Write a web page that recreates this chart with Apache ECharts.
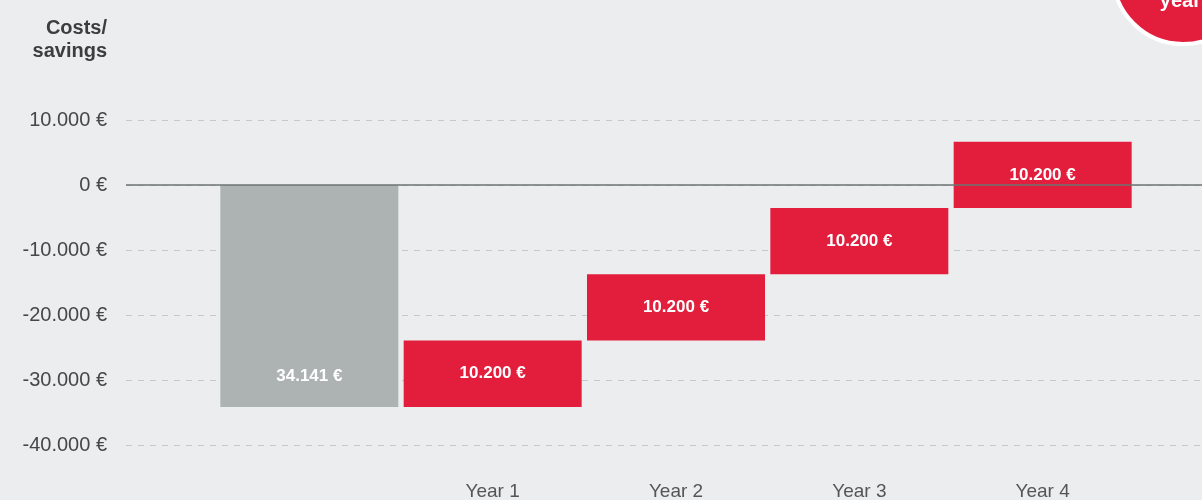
<!DOCTYPE html>
<html>
<head>
<meta charset="utf-8">
<script src="https://cdn.jsdelivr.net/npm/echarts@6/dist/echarts.min.js"></script>
<style>
  html, body { margin: 0; padding: 0; background: #ecedef; }
  #char { width: 1202px; height: 500px; }
</style>
</head>
<body>
<div id="char"></div>
<script>
// categories (first slot is empty padding, second is the investment bar)
var categories = ['', '', 'Year 1', 'Year 2', 'Year 3', 'Year 4', ''];
var investment = 34141;
var savings = [10200, 10200, 10200, 10200];
var yTicks = { min: -40000, max: 10000, step: 10000 };

function fmt(v) {
    var s = String(Math.abs(Math.round(v))).replace(/\B(?=(\d{3})+(?!\d))/g, '.');
    return (v < 0 ? '-' : '') + s + ' €';
}

// build waterfall columns (0 instead of '-' inside the stack so it does not turn NaN)
var baseData = ['-', 0];
var saveData = ['-', 0];
var investData = ['-', -investment];
var running = -investment;
for (var i = 0; i < savings.length; i++) {
    baseData.push(running);
    saveData.push(savings[i]);
    investData.push(0);
    running += savings[i];
}
baseData.push('-'); saveData.push('-'); investData.push('-');

var font = '"Liberation Sans", Arial, sans-serif';
var myChart = echarts.init(document.getElementById('char'));

option = {
    backgroundColor: '#ecedef',
    animation: false,
    textStyle: { fontFamily: font },
    grid: {
        left: 126,
        top: 120,
        width: 1100,
        height: 325,
        outerBoundsMode: 'none',
        containLabel: false
    },
    xAxis: {
        type: 'category',
        data: categories,
        boundaryGap: false,
        axisLine: { show: false },
        axisTick: { show: false },
        splitLine: { show: false },
        axisLabel: {
            margin: 37,
            color: '#555555',
            fontSize: 19,
            fontFamily: font
        }
    },
    yAxis: {
        type: 'value',
        min: yTicks.min,
        max: yTicks.max,
        interval: yTicks.step,
        axisLine: { show: false },
        axisTick: { show: false },
        axisLabel: {
            margin: 19,
            color: '#474747',
            fontSize: 20,
            fontFamily: font,
            formatter: function (v) { return fmt(v); }
        },
        splitLine: {
            lineStyle: { color: '#c5c8c9', type: [6, 6], width: 1 }
        }
    },
    graphic: [
        {
            type: 'text',
            x: 107,
            y: 17,
            style: {
                text: 'Costs/\nsavings',
                align: 'right',
                verticalAlign: 'top',
                fontSize: 20,
                lineHeight: 23,
                fontWeight: 'bold',
                fontFamily: font,
                fill: '#3d3d3d'
            }
        },
        {
            type: 'circle',
            shape: { cx: 1183, cy: -26, r: 70 },
            style: { fill: '#e31e3c', stroke: '#ffffff', lineWidth: 4 },
            z: 10
        },
        {
            type: 'text',
            x: 1186,
            y: 1,
            z: 11,
            style: {
                text: 'years',
                align: 'center',
                verticalAlign: 'middle',
                fontSize: 20,
                fontWeight: 'bold',
                fontFamily: font,
                fill: '#ffffff'
            }
        }
    ],
    series: [
        {
            name: 'base',
            type: 'bar',
            stack: 'w',
            stackStrategy: 'all',
            barWidth: 178,
            silent: true,
            itemStyle: { color: 'transparent' },
            data: baseData
        },
        {
            name: 'Savings',
            type: 'bar',
            stack: 'w',
            stackStrategy: 'all',
            barWidth: 178,
            itemStyle: { color: '#e31e3c' },
            label: {
                show: true,
                position: 'inside',
                color: '#ffffff',
                fontSize: 17,
                fontWeight: 'bold',
                fontFamily: font,
                formatter: function (p) { return p.value ? fmt(p.value) : ''; }
            },
            data: saveData
        },
        {
            name: 'Investment',
            type: 'bar',
            stack: 'w',
            stackStrategy: 'all',
            barWidth: 178,
            itemStyle: { color: '#adb3b3' },
            label: {
                show: true,
                position: 'insideBottom',
                distance: 22,
                color: '#ffffff',
                fontSize: 17,
                fontWeight: 'bold',
                fontFamily: font,
                formatter: function (p) { return p.value ? fmt(-p.value) : ''; }
            },
            markLine: {
                silent: true,
                symbol: 'none',
                label: { show: false },
                lineStyle: { color: '#6d7373', type: 'solid', width: 1.5 },
                data: [{ yAxis: 0 }]
            },
            data: investData
        }
    ]
};
myChart.setOption(option);
</script>
</body>
</html>
